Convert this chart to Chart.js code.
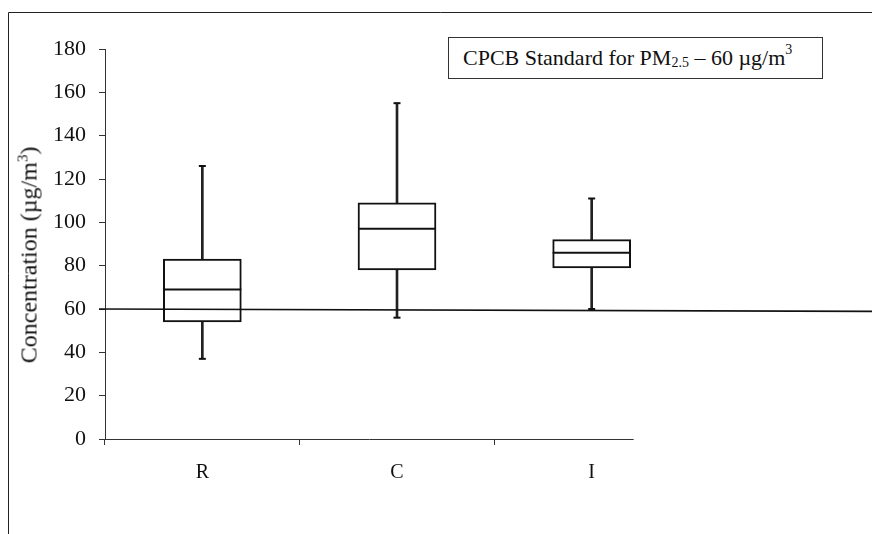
<!DOCTYPE html>
<html>
<head>
<meta charset="utf-8">
<script src="https://cdn.jsdelivr.net/npm/chart.js@4.4.1/dist/chart.umd.min.js"></script>
<style>
  body { margin: 0; background: #fff; }
  #wrap { position: relative; width: 872px; height: 534px; }
  #legendBox {
    position: absolute; left: 448px; top: 37px; width: 375px; height: 42px;
    box-sizing: border-box; border: 1px solid #333; background: #fff;
    font: 22px "Liberation Serif", "Times New Roman", serif; color: #111;
    display: flex; align-items: center; padding-left: 14px; white-space: nowrap;
  }
  #legendBox .sub { font-size: 14px; position: relative; top: 5px; }
  #legendBox .sup { font-size: 14px; position: relative; top: -8px; }
  #yTitle {
    position: absolute; left: 29px; top: 255px; white-space: nowrap;
    font: 24px "Liberation Serif", "Times New Roman", serif; color: #111;
    transform: translate(-50%, -50%) rotate(-90deg);
  }
  #yTitle .sup { font-size: 15px; position: relative; top: -9px; }
</style>
</head>
<body>
<div id="wrap">
  <canvas id="chart" width="872" height="534"></canvas>
  <div id="yTitle">Concentration (µg/m<span class="sup">3</span>)</div>
  <div id="legendBox">CPCB Standard for PM<span class="sub">2.5</span>&nbsp;– 60 µg/m<span class="sup">3</span></div>
</div>
<script>
// sites
const sites = ["R", "C", "I"];

// box plot statistics (µg/m3)
const minVals = [37, 56, 60];
const q1Vals = [54, 78, 79];
const medianVals = [69, 97, 86];
const q3Vals = [83, 109, 92];
const maxVals = [126, 155, 111];

// CPCB standard line, left and right end (slightly tilted in the original)
const standardLine = [60, 58.9];

const yTicks = [0, 20, 40, 60, 80, 100, 120, 140, 160, 180];

const ink = "#111";
const axisColor = "#333";
const serif = "'Liberation Serif', 'Times New Roman', serif";

// frame, x axis line and the standard line
const decorations = {
  id: "decorations",
  beforeDraw(chart) {
    const ctx = chart.ctx;
    ctx.save();
    ctx.strokeStyle = "#222";
    ctx.lineWidth = 1;
    ctx.beginPath();
    ctx.moveTo(8.5, chart.height);
    ctx.lineTo(8.5, 12.5);
    ctx.lineTo(chart.width, 12.5);
    ctx.stroke();
    ctx.restore();
  },
  afterDatasetsDraw(chart) {
    const ctx = chart.ctx;
    const x = chart.scales.x;
    const y = chart.scales.y;
    const area = chart.chartArea;
    const y0 = Math.round(y.getPixelForValue(0)) + 0.5;
    ctx.save();
    // x axis line stops just past the last box
    ctx.strokeStyle = axisColor;
    ctx.lineWidth = 1;
    ctx.beginPath();
    ctx.moveTo(area.left, y0);
    ctx.lineTo(x.getPixelForValue(2) + 42, y0);
    ctx.stroke();
    // standard line
    ctx.strokeStyle = ink;
    ctx.lineWidth = 1.6;
    ctx.beginPath();
    ctx.moveTo(area.left - 6, y.getPixelForValue(standardLine[0]));
    ctx.lineTo(chart.width, y.getPixelForValue(standardLine[1]));
    ctx.stroke();
    ctx.restore();
  }
};

const config = {
  type: "bar",
  data: {
    labels: sites,
    datasets: [
      {
        // boxes
        label: "IQR",
        data: sites.map((s, i) => [q1Vals[i], q3Vals[i]]),
        backgroundColor: "#fff",
        borderColor: ink,
        borderWidth: 2,
        borderSkipped: false,
        barThickness: 78,
        grouped: false,
        order: 2,
      },
      {
        // whiskers
        label: "Range",
        data: sites.map((s, i) => [minVals[i], maxVals[i]]),
        backgroundColor: "#222",
        borderWidth: 0,
        barThickness: 2,
        grouped: false,
        order: 3,
      },
      {
        type: "line",
        label: "Median",
        data: medianVals,
        showLine: false,
        pointStyle: "line",
        pointRadius: 39,
        borderColor: ink,
        borderWidth: 2,
        order: 1,
      },
      {
        type: "line",
        label: "Max",
        data: maxVals,
        showLine: false,
        pointStyle: "line",
        pointRadius: 3.5,
        borderColor: ink,
        borderWidth: 2,
        order: 1,
      },
      {
        type: "line",
        label: "Min",
        data: minVals,
        showLine: false,
        pointStyle: "line",
        pointRadius: 3.5,
        borderColor: ink,
        borderWidth: 2,
        order: 1,
      },
    ],
  },
  options: {
    responsive: false,
    animation: false,
    layout: {
      padding: { top: 49, right: 183, left: 0, bottom: 0 },
    },
    scales: {
      x: {
        offset: true,
        afterFit(scale) {
          scale.height = 95;
        },
        border: { display: false },
        grid: {
          offset: true,
          drawOnChartArea: false,
          drawTicks: true,
          tickLength: 6,
          tickColor: (c) => (c.index === undefined ? "transparent" : axisColor),
        },
        ticks: {
          color: ink,
          padding: 16,
          font: { family: serif, size: 20 },
        },
      },
      y: {
        min: 0,
        max: 180,
        afterFit(scale) {
          scale.width = 105;
        },
        afterBuildTicks(scale) {
          scale.ticks = yTicks.map((v) => ({ value: v }));
        },
        border: { display: true, color: axisColor, width: 1 },
        grid: {
          drawOnChartArea: false,
          drawTicks: true,
          tickLength: 6,
          tickColor: axisColor,
        },
        ticks: {
          color: ink,
          padding: 13,
          font: { family: serif, size: 22 },
        },
      },
    },
    plugins: {
      legend: { display: false },
      title: { display: false },
      tooltip: { enabled: false },
    },
  },
  plugins: [decorations],
};

new Chart(document.getElementById("chart"), config);
</script>
</body>
</html>
